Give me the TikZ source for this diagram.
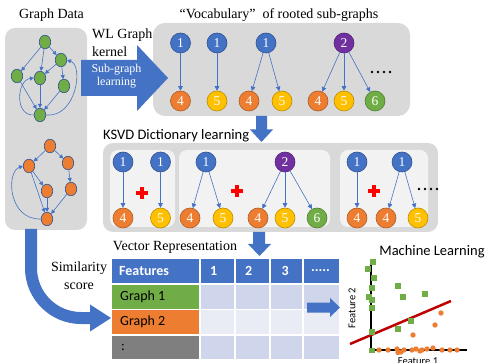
\documentclass[tikz,border=0pt]{standalone}
\usepackage{fontspec}
\setmainfont{Liberation Serif}
\newfontfamily\calibfont{Carlito}
\usetikzlibrary{arrows.meta,shapes.geometric}
\definecolor{cblue}{HTML}{4472C4}
\definecolor{cblueD}{HTML}{2F528F}
\definecolor{corange}{HTML}{ED7D31}
\definecolor{corangeD}{HTML}{AE5A21}
\definecolor{cyellow}{HTML}{FFC000}
\definecolor{cyellowD}{HTML}{BC8C00}
\definecolor{cgreen}{HTML}{70AD47}
\definecolor{cgreenD}{HTML}{507E32}
\definecolor{cpurple}{HTML}{7030A0}
\definecolor{cpurpleD}{HTML}{52237A}
\definecolor{panelgray}{HTML}{D9D9D9}
\definecolor{innergray}{HTML}{F2F2F2}
\definecolor{rowdark}{HTML}{CFD5EA}
\definecolor{rowlight}{HTML}{E9EBF5}
\definecolor{cgrayc}{HTML}{7F7F7F}
\definecolor{cred}{HTML}{C00000}
\begin{document}
\begin{tikzpicture}[x=1pt,y=-1pt,
  serif/.style={inner sep=0pt, font=\fontsize{14}{18}\selectfont},
  sans/.style={inner sep=0pt, font=\calibfont\fontsize{14.5}{17}\selectfont},
  vn/.style={circle, minimum size=20pt, inner sep=0pt, line width=0.6pt, text=white, font=\fontsize{13.5}{13.5}\selectfont},
  vb/.style={vn, fill=cblue, draw=cblueD},
  vo/.style={vn, fill=corange, draw=corangeD},
  vy/.style={vn, fill=cyellow, draw=cyellowD},
  vg/.style={vn, fill=cgreen, draw=cgreenD},
  vp/.style={vn, fill=cpurple, draw=cpurpleD},
  gn/.style={ellipse, minimum width=11.5pt, minimum height=13.5pt, inner sep=0pt, line width=0.6pt, draw=cblueD},
  gng/.style={gn, fill=cgreen},
  gno/.style={gn, fill=corange},
  ge/.style={draw=cblue, line width=0.6pt, -{Triangle[length=4pt,width=4pt]}},
  ve/.style={draw=cblue, line width=0.6pt, -{Triangle[length=4.5pt,width=4.5pt]}},
  plussign/.style={draw=red, line width=3.6pt},
  celltext/.style={inner sep=0pt, anchor=west, font=\calibfont\fontsize{14}{14}\selectfont},
  hdrtext/.style={celltext, text=white, font=\calibfont\bfseries\fontsize{14}{14}\selectfont},
  axistext/.style={inner sep=0pt, font=\calibfont\fontsize{10.5}{10.5}\selectfont}
]
\useasboundingbox (0,0) rectangle (487,363);

% ---------------- Graph data panel ----------------
\node[serif] (gdtitle) at (51.5,15) {Graph Data};
\fill[panelgray, rounded corners=10pt] (5,28) rectangle (87,230);

% green graph
\node[gng] (g1) at (45,42) {};
\node[gng] (g2) at (61,60) {};
\node[gng] (g3) at (17,76) {};
\node[gng] (g4) at (40,78) {};
\node[gng] (g5) at (64,86) {};
\node[gng] (g6) at (40,115) {};
\draw[ge] (g1) -- (g3);
\draw[ge] (g1) -- (g4);
\draw[ge] (g1) -- (g2);
\draw[ge] (g2) -- (g4);
\draw[ge] (g2) -- (g5);
\draw[ge] (g3) -- (g6);
\draw[ge] (g4) -- (g6);
\draw[ge] (g5) -- (g6);
\draw[ge] (g6.east) .. controls (76,118) and (84,66) .. (g2.east);
\draw[ge] (g6.west) .. controls (14,116) and (17,80) .. (g4.west);

% orange graph
\node[gno] (o1) at (50,146) {};
\node[gno] (o2) at (29,166) {};
\node[gno] (o3) at (68,163) {};
\node[gno] (o4) at (47,191) {};
\node[gno] (o5) at (71,189) {};
\node[gno] (o6) at (47,219) {};
\draw[ge] (o1) -- (o2);
\draw[ge] (o1) -- (o3);
\draw[ge] (o2) -- (o4);
\draw[ge] (o3) -- (o5);
\draw[ge] (o2) -- (o6);
\draw[ge] (o4) -- (o6);
\draw[ge] (o5) -- (o6);
\draw[ge] (o6.west) .. controls (8,220) and (6,172) .. (o2.west);

% ---------------- Vocabulary panel ----------------
\node[serif] (voctitle) at (279,15) {``Vocabulary''\ \ of rooted sub-graphs};
\fill[panelgray, rounded corners=12pt] (153,23) rectangle (410,116);

\node[vb] (v1) at (180.5,43) {1};
\node[vb] (v2) at (217,43) {1};
\node[vb] (v3) at (266,43) {1};
\node[vp] (v4) at (344,43) {2};
\node[vo] (w1) at (180.5,101) {4};
\node[vy] (w2) at (217,101) {5};
\node[vo] (w3) at (249,101) {4};
\node[vy] (w4) at (282,101) {5};
\node[vo] (w5) at (318,101) {4};
\node[vy] (w6) at (344,101) {5};
\node[vg] (w7) at (375,101) {6};
\draw[ve] (v1) -- (w1);
\draw[ve] (v2) -- (w2);
\draw[ve] (v3) -- (w3);
\draw[ve] (v3) -- (w4);
\draw[ve] (v4) -- (w5);
\draw[ve] (v4) -- (w6);
\draw[ve] (v4) -- (w7);
\foreach \px in {372,378,384,390} \fill (\px,72) circle (1.3pt);

% WL text and big arrow
\node[serif, anchor=west, align=left] (wltext) at (92,42.5) {WL Graph\\kernel};
\fill[cblue] (81,60) -- (137,60) -- (137,45) -- (168,78) -- (137,111) -- (137,96) -- (81,96) -- cycle;
\node[inner sep=0pt, text=white, align=center, font=\fontsize{12}{13.5}\selectfont] (sgtext) at (116.5,76) {Sub-graph\\learning};

% down arrow 1
\fill[cblue] (256,116) -- (267,116) -- (267,129.5) -- (273,129.5) -- (261.5,142) -- (250,129.5) -- (256,129.5) -- cycle;

% ---------------- KSVD panel ----------------
\node[sans, anchor=west] (ksvdtitle) at (103,136) {KSVD Dictionary learning};
\fill[panelgray, rounded corners=10pt] (103,143) rectangle (438,232);
\fill[innergray, rounded corners=8pt] (110,150) rectangle (175,227);
\fill[innergray, rounded corners=8pt] (179,150) rectangle (330,227);
\fill[innergray, rounded corners=8pt] (340,150) rectangle (428,227);

\node[vb] (k1) at (123,162) {1};
\node[vb] (k2) at (160.5,162) {1};
\node[vo] (k3) at (123,218) {4};
\node[vy] (k4) at (160.5,218) {5};
\draw[ve] (k1) -- (k3);
\draw[ve] (k2) -- (k4);

\node[vb] (k5) at (206,162) {1};
\node[vp] (k6) at (285,162) {2};
\node[vo] (k7) at (190,218) {4};
\node[vy] (k8) at (223,218) {5};
\node[vo] (k9) at (258,218) {4};
\node[vy] (k10) at (285,218) {5};
\node[vg] (k11) at (317,218) {6};
\draw[ve] (k5) -- (k7);
\draw[ve] (k5) -- (k8);
\draw[ve] (k6) -- (k9);
\draw[ve] (k6) -- (k10);
\draw[ve] (k6) -- (k11);

\node[vb] (k12) at (357,162) {1};
\node[vb] (k13) at (402,162) {1};
\node[vo] (k14) at (357,218) {4};
\node[vo] (k15) at (386,218) {4};
\node[vy] (k16) at (418,218) {5};
\draw[ve] (k12) -- (k14);
\draw[ve] (k13) -- (k15);
\draw[ve] (k13) -- (k16);

\foreach \cx/\cy in {142/193, 237/191, 374/191} {
  \draw[plussign] (\cx-6,\cy) -- (\cx+6,\cy);
  \draw[plussign] (\cx,\cy-6) -- (\cx,\cy+6);
}
\foreach \px in {419,425,431,437} \fill (\px,189) circle (1.3pt);

% down arrow 2
\fill[cblue] (253,232) -- (265,232) -- (265,244) -- (271,244) -- (259.5,256) -- (248,244) -- (253,244) -- cycle;

% ---------------- Table ----------------
\node[serif] (vrtitle) at (175,247) {Vector Representation};

% header row
\fill[cblue] (112,259) rectangle (199,283);
\fill[cblue] (200.5,259) rectangle (234,283);
\fill[cblue] (235.5,259) rectangle (269,283);
\fill[cblue] (270.5,259) rectangle (302,283);
\fill[cblue] (303.5,259) rectangle (339,283);
% row 1
\fill[cgreen] (112,284.7) rectangle (199,308.5);
\fill[rowdark] (200.5,284.7) rectangle (234,308.5);
\fill[rowdark] (235.5,284.7) rectangle (269,308.5);
\fill[rowdark] (270.5,284.7) rectangle (302,308.5);
\fill[rowdark] (303.5,284.7) rectangle (339,308.5);
% row 2
\fill[corange] (112,310) rectangle (199,334);
\fill[rowlight] (200.5,310) rectangle (234,334);
\fill[rowlight] (235.5,310) rectangle (269,334);
\fill[rowlight] (270.5,310) rectangle (302,334);
\fill[rowlight] (303.5,310) rectangle (339,334);
% row 3
\fill[cgrayc] (112,335.7) rectangle (199,359.3);
\fill[rowdark] (200.5,335.7) rectangle (234,359.3);
\fill[rowdark] (235.5,335.7) rectangle (269,359.3);
\fill[rowdark] (270.5,335.7) rectangle (302,359.3);
\fill[rowdark] (303.5,335.7) rectangle (339,359.3);

\node[hdrtext] (hf) at (119,271) {Features};
\node[hdrtext] (h1) at (210,271) {1};
\node[hdrtext] (h2) at (245,271) {2};
\node[hdrtext] (h3) at (281.5,271) {3};
\node[hdrtext] (h4) at (311,271) {.....};
\node[celltext] (r1) at (120,296.5) {Graph 1};
\node[celltext] (r2) at (120,322) {Graph 2};
\node[celltext] (r3) at (121,347) {:};

% small right arrow
\fill[cblue] (307,302.5) -- (330,302.5) -- (330,298) -- (340,307.5) -- (330,317) -- (330,312.5) -- (307,312.5) -- cycle;

% similarity arrow
\draw[cblue, line width=12pt] (31,229) -- (31,268) .. controls (31,295.6) and (53.4,318) .. (81,318) -- (91,318);
\fill[cblue] (90,304.5) -- (111,318) -- (90,331.5) -- cycle;
\node[serif, align=center] (simtext) at (79,276) {Similarity\\score};

% ---------------- Machine learning plot ----------------
\node[sans] (mltitle) at (432,252) {Machine Learning};
\draw[black, line width=2pt] (371,262) -- (371,350) -- (467,350);
\node[axistext, rotate=90] (f2) at (352,308) {Feature 2};
\node[axistext, anchor=north] (f1) at (418,357.5) {Feature 1};
\draw[cred, line width=2.5pt] (350,344) -- (451,301);
\foreach \sx/\sy in {373/262, 368/269, 374/278, 372/288, 369/297, 372/300, 372/308, 372/332, 372/350.5, 398/286, 403/297, 425/294, 411/321, 398/329}
  \fill[cgreen] (\sx-2.8,\sy-2.8) rectangle (\sx+2.8,\sy+2.8);
\foreach \ox/\oy in {441/313, 435/325, 413/335, 379/350, 388/350, 397/349, 398/352.5, 401/352, 404/350, 412/350, 416/349, 420/351, 422/350, 427/349, 433/348, 442/350, 450/350, 457/350}
  \fill[corange] (\ox,\oy) circle (2.7pt);
\end{tikzpicture}
\end{document}
